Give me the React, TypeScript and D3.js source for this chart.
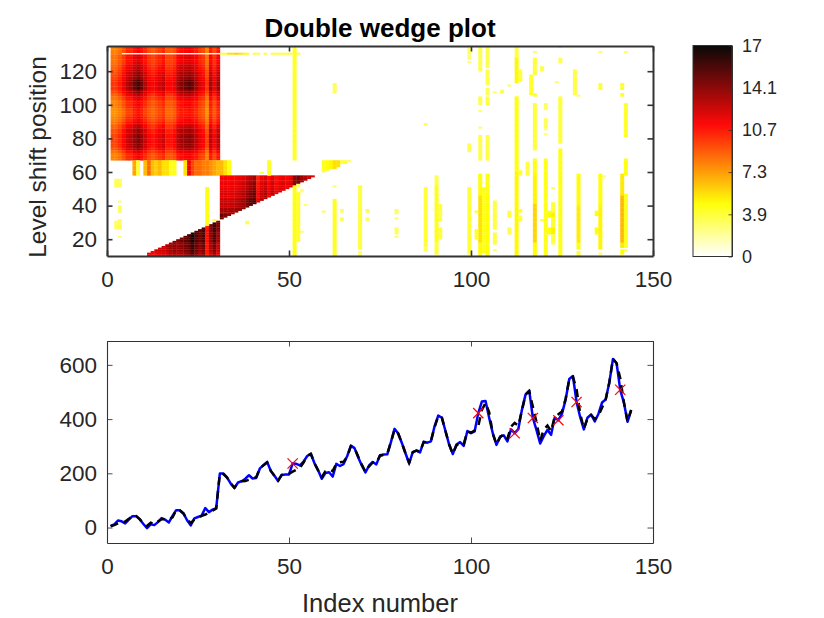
import { useEffect, useRef } from 'react';
import * as d3 from 'd3';

// Observed series, one value per index number
const observed = [
  6, 12, 26, 23, 15, 29, 42, 42, 30, 13, -2, 12,
  9, 20, 35, 29, 19, 43, 64, 64, 52, 27, 8, 34,
  39, 44, 72, 57, 66, 72, 199, 199, 184, 162, 146, 166,
  171, 180, 193, 181, 183, 218, 230, 242, 209, 191, 172, 194,
  196, 196, 236, 235, 229, 243, 264, 272, 237, 211, 180, 201,
  204, 188, 235, 227, 234, 264, 302, 293, 259, 229, 203, 229,
  242, 233, 267, 269, 270, 315, 364, 347, 312, 274, 237, 278,
  284, 277, 317, 313, 318, 374, 413, 405, 355, 306, 271, 306,
  315, 301, 356, 348, 355, 422, 465, 467, 404, 347, 305, 336,
  340, 318, 362, 348, 363, 435, 491, 505, 404, 359, 310, 337,
  360, 342, 406, 396, 420, 472, 548, 559, 463, 407, 362, 405,
  417, 391, 419, 461, 472, 535, 622, 606, 508, 461, 390, 432,
];

// Dashed fitted series
const fitted = [
  5, 9, 15, 21, 22, 32, 43, 43, 31, 16, 6, 18,
  12, 22, 31, 31, 30, 38, 64, 63, 52, 30, 17, 29,
  36, 43, 48, 54, 62, 70, 199, 197, 184, 163, 147, 166,
  171, 172, 176, 181, 186, 218, 230, 240, 209, 191, 173, 194,
  196, 198, 206, 213, 220, 240, 264, 272, 237, 211, 186, 208,
  214, 208, 236, 241, 243, 262, 300, 293, 262, 232, 206, 226,
  240, 238, 265, 268, 272, 315, 362, 347, 312, 274, 239, 278,
  284, 280, 315, 315, 320, 370, 411, 405, 355, 306, 272, 303,
  313, 308, 354, 350, 358, 374, 434, 460, 425, 345, 307, 333,
  345, 328, 372, 386, 375, 433, 490, 503, 445, 388, 320, 362,
  376, 355, 409, 418, 428, 475, 548, 556, 510, 420, 364, 402,
  415, 400, 412, 442, 472, 535, 622, 606, 551, 462, 392, 434,
];

const outlierIndex = [51, 102, 112, 117, 124, 129, 141];

const xTicks = [0, 50, 100, 150];
const wedgeYTicks = [20, 40, 60, 80, 100, 120];
const seriesYTicks = [0, 200, 400, 600];
const colorTickLabels = ['0', '3.9', '7.3', '10.7', '14.1', '17'];

// Column profiles of the upper-left block (columns 1..30), light to dark
const blockProfiles = [
  [7, 7, 7.4, 8, 9, 9, 9.8, 10.2, 9.8, 9, 8.4, 8, 8.4, 8.8, 9.2, 8, 8, 8.4, 9.6, 10, 10, 10.2, 10, 9.6, 8.8, 8.4, 7, 9.6, 8.4, 9.6],
  [7.4, 7.4, 7.8, 8.6, 9.6, 9.6, 10.3, 10.8, 10.3, 9.6, 8.8, 8.4, 8.8, 9.2, 9.6, 8.4, 8.4, 8.8, 10, 10.4, 10.5, 10.8, 10.4, 10, 9.2, 8.8, 7.4, 10, 8.8, 10],
  [7.8, 7.8, 8.4, 9.2, 10.2, 10.2, 11, 11.6, 11, 10.2, 9.4, 9, 9.4, 9.8, 10.2, 9, 9, 9.4, 10.6, 11, 11.2, 11.4, 11, 10.6, 9.8, 9.4, 7.8, 10.6, 9.4, 10.6],
  [8.2, 8.2, 8.8, 9.8, 10.8, 11, 11.8, 12.4, 11.8, 10.8, 9.8, 9.4, 9.8, 10.3, 10.8, 9.4, 9.4, 9.8, 11.2, 11.8, 12, 12.2, 11.8, 11.2, 10.3, 9.8, 8.2, 11.2, 9.8, 11.2],
  [8.6, 8.6, 9.2, 10.2, 11.4, 11.6, 12.4, 13.2, 12.4, 11.4, 10.2, 9.8, 10.2, 10.8, 11.2, 9.8, 9.8, 10.2, 11.8, 12.4, 12.6, 12.9, 12.4, 11.8, 10.8, 10.2, 8.6, 11.8, 10.2, 11.8],
  [9, 9, 9.6, 10.6, 11.8, 12.2, 13, 13.8, 13, 11.8, 10.6, 10.2, 10.6, 11.2, 11.8, 10.2, 10.2, 10.6, 12.2, 12.9, 13.2, 13.5, 13, 12.2, 11.2, 10.6, 9, 12.2, 10.6, 12.2],
  [9.4, 9.4, 10, 11, 12.4, 13, 14.2, 15.2, 14.2, 12.4, 11, 10.6, 11, 11.6, 12.2, 10.6, 10.6, 11, 12.8, 13.6, 14.2, 14.8, 14.2, 12.8, 11.6, 11, 9.4, 12.8, 11, 12.8],
];

// [top row, bottom row, profile]
const blockBands = [
  [134, 130, 1], [129, 124, 2], [123, 121, 3], [120, 118, 4], [117, 115, 5], [114, 109, 6],
  [108, 107, 5], [106, 105, 3], [104, 103, 2], [102, 98, 1], [97, 93, 0], [92, 90, 1],
  [89, 88, 2], [87, 86, 3], [85, 83, 4], [82, 80, 5], [79, 75, 5], [74, 73, 4], [72, 71, 2], [70, 67, 1],
];

// Strip of rows 58..66, columns 7..33 (0 = empty)
const stripValues = [
  6.5, 3.4, 0, 6, 8, 6, 5.5, 6, 5, 5, 3.9, 3.9, 0, 0, 5, 11, 9, 8, 8, 7.5, 7.5, 7, 6.5, 6, 6, 5, 4,
];

// Lower wedge, columns 11..30
const lowWedgeRows = [
  [30, 25, [11.5, 11.5, 12, 12.2, 12.2, 13, 13.6, 14.2, 13.8, 14.5, 14.8, 15.2, 16, 15.2, 14.6, 15.4, 10.4, 13.8, 15.4, 13.8]],
  [24, 18, [11.5, 11.5, 11.8, 12, 12, 12.8, 13.4, 14, 13.6, 14.2, 14.6, 15, 16.4, 15, 14.2, 15, 10.2, 13.4, 15, 13]],
  [17, 13, [11.2, 11.2, 11.5, 11.8, 11.8, 12.4, 13, 13.4, 13, 13.4, 14, 14.4, 15.6, 14.4, 13.4, 14.2, 10, 12.6, 14, 12]],
  [12, 10, [10.8, 10.8, 11, 11.2, 11.4, 11.8, 12.4, 12.8, 12.4, 12.6, 13.2, 13.6, 14.8, 13.6, 12.6, 13.4, 10, 11.6, 13, 11]],
];

// Upper wedge, columns 31..57
const highWedgeRows = [
  [57, 54, [10.8, 10.8, 10.6, 10.8, 10.8, 11, 11.4, 12, 12.4, 13, 9.8, 11, 11.4, 10.4, 11.4, 10.4, 10.8, 11, 10.6, 11, 13.4, 14, 13, 12.4, 11.8, 11.4, 11]],
  [53, 49, [11, 11, 10.8, 11, 11, 11.4, 11.8, 12.4, 13, 13.6, 10.2, 11.4, 12, 10.8, 11.8, 10.6, 11.2, 11.4, 11, 11.4, 13.6, 14.2, 13.2, 12.6, 12, 11.5, 11]],
  [48, 44, [11.4, 11.4, 11.2, 11.4, 11.6, 12, 12.4, 13.2, 13.8, 14.4, 10.6, 12, 12.6, 11.2, 12.2, 11, 11.6, 11.8, 11.4, 11.6, 13.8, 14.2, 13.4, 12.8, 12, 11.6, 11]],
  [43, 39, [12, 12, 11.8, 12, 12.2, 12.6, 13, 14, 14.6, 15.2, 11.2, 12.6, 13.2, 11.8, 12.8, 11.4, 12, 12.2, 11.6, 11.8, 13.8, 14, 13, 13, 12, 11.6, 11]],
  [38, 35, [12.8, 12.8, 12.6, 12.8, 13, 13.2, 13.8, 14.8, 15.4, 15.8, 11.6, 13, 13.6, 12.2, 13.2, 11.8, 12.4, 12.8, 11.8, 12, 14, 14, 13, 13, 12, 11.6, 11]],
  [34, 32, [14.4, 13.8, 13.4, 13.4, 13.6, 13.8, 14.4, 15.2, 15.8, 16, 12, 13.4, 14, 12.4, 13.6, 12, 12.6, 13, 12, 12, 14, 14, 13, 13, 12, 11.6, 11]],
];

// Sparse segments: [column, top row, bottom row, value]
const sparseCells = [
  // row with the thin line through the top block
  [31, 130, 130, 3], [32, 130, 130, 3.4], [33, 130, 130, 5], [34, 130, 130, 5], [35, 130, 130, 5.5], [36, 130, 130, 5], [37, 130, 130, 4.5], [38, 130, 130, 4],
  [40, 130, 130, 3.4], [41, 130, 130, 3], [43, 130, 130, 3.5], [45, 130, 130, 3.4], [46, 130, 130, 3.4], [47, 130, 130, 3.4], [48, 130, 130, 3.4], [49, 130, 130, 3.4], [50, 130, 130, 3.4], [52, 130, 130, 3.4],
  // small marks left of the lower wedge
  [2, 55, 51, 2.8], [3, 55, 51, 2.8], [3, 42, 42, 2.4], [3, 39, 36, 2.8], [3, 31, 31, 2.6], [2, 30, 26, 2.8], [3, 30, 26, 2.8], [3, 21, 21, 2.4],
  [27, 50, 28, 4.1], [29, 31, 31, 3.4], [38, 30, 29, 3], [42, 59, 59, 3], [44, 66, 58, 3.6], [59, 36, 36, 3],
  // column at 51
  [51, 134, 67, 3.7], [51, 51, 10, 4], [52, 52, 51, 2.6], [52, 47, 19, 3.6], [53, 49, 48, 2.4], [54, 40, 40, 2.4], [53, 24, 24, 2.6],
  // triangle next to the strip
  [59, 66, 60, 3.8], [60, 66, 61, 4.2], [61, 66, 62, 4.4], [62, 66, 62, 5], [63, 66, 63, 5], [64, 66, 65, 3.4], [65, 66, 65, 3.4], [66, 66, 66, 3],
  [62, 112, 107, 2.8], [62, 51, 51, 2.6], [62, 43, 10, 3.8],
  [64, 37, 36, 2.6], [64, 32, 31, 2.8],
  [69, 51, 14, 3.4], [69, 12, 10, 2.6], [71, 37, 36, 3], [71, 32, 31, 2.6],
  [79, 37, 35, 2.8], [79, 32, 32, 2.4], [79, 26, 23, 2.8], [79, 21, 21, 2.6],
  [87, 88, 88, 3], [87, 50, 16, 3.4], [87, 15, 13, 2.8],
  [90, 57, 52, 3], [90, 51, 19, 3.9], [90, 18, 11, 3.4], [91, 40, 31, 3.2], [91, 26, 20, 3.4],
  [99, 133, 131, 2.6], [99, 130, 127, 2.4], [99, 125, 125, 2.4], [99, 76, 72, 3], [99, 50, 11, 3.4],
  [102, 134, 120, 3], [102, 104, 100, 3], [102, 96, 96, 2.4], [102, 86, 86, 2.4], [102, 81, 67, 3],
  [102, 58, 46, 4.2], [102, 45, 18, 5], [102, 17, 10, 4.3], [101, 36, 36, 4], [101, 25, 20, 3.6],
  [103, 50, 12, 3.8], [104, 134, 122, 3], [104, 120, 112, 3], [104, 109, 106, 2.8], [104, 104, 100, 3.2], [104, 81, 67, 3.2], [104, 58, 46, 4], [104, 45, 10, 4.2],
  [106, 107, 107, 2.6], [106, 42, 26, 3.2], [106, 23, 17, 3.2], [106, 13, 13, 2.6], [108, 108, 107, 3],
  [110, 111, 111, 2.8], [110, 36, 33, 3.2], [110, 26, 23, 3],
  [112, 134, 128, 3.2], [112, 127, 113, 4.4], [112, 104, 60, 4.1], [112, 59, 10, 4.4], [113, 120, 114, 3.4], [113, 60, 58, 3.4], [113, 37, 36, 3.4], [113, 33, 31, 3.4],
  [115, 65, 58, 3.2], [116, 117, 106, 3.6], [117, 131, 131, 2.6], [117, 127, 118, 3.3], [117, 106, 105, 3.4], [117, 100, 73, 3.3],
  [117, 67, 59, 4], [117, 58, 41, 4.5], [117, 40, 18, 5.3], [117, 17, 10, 4.3],
  [119, 122, 120, 3], [119, 31, 31, 3], [120, 100, 97, 2.8], [120, 91, 86, 2.8], [120, 85, 85, 2.4], [120, 82, 82, 2.4], [120, 67, 10, 3.9],
  [121, 36, 33, 4.2], [121, 26, 23, 4.2], [122, 50, 50, 2.6], [122, 41, 36, 3.4], [122, 35, 33, 4.6], [122, 32, 27, 3.6], [122, 26, 23, 4.6], [122, 22, 17, 3.2],
  [123, 113, 113, 2.6], [124, 134, 134, 2.8], [124, 127, 125, 3], [124, 104, 89, 3.4], [124, 88, 77, 3.4], [124, 73, 10, 4],
  [128, 120, 112, 3.2], [128, 111, 106, 3.2], [129, 105, 105, 2.6], [129, 58, 40, 4.3], [129, 39, 18, 4.7], [129, 17, 14, 4], [129, 12, 10, 3.4],
  [134, 36, 34, 4.2], [134, 26, 23, 4.2], [135, 131, 131, 2.6], [135, 112, 109, 3.4], [135, 58, 40, 4.2], [135, 39, 14, 4.5], [135, 11, 11, 3], [136, 57, 57, 2.6],
  [141, 112, 109, 3.6], [141, 106, 105, 3.6], [141, 58, 46, 4.8], [141, 45, 18, 6], [141, 17, 15, 4.8], [141, 13, 11, 4.2],
  [142, 131, 131, 2.6], [142, 100, 81, 3.6], [142, 67, 58, 4], [142, 46, 15, 3.8], [142, 13, 13, 3],
];

const heatColor = d3
  .scaleLinear<string>()
  .domain([0, 4.25, 10.6, 17])
  .range(['#ffffff', '#ffff00', '#ff0000', '#000000'])
  .clamp(true);

function buildCells() {
  const cells: { c: number; r: number; v: number }[] = [];
  blockBands.forEach(([top, bottom, p]) => {
    for (let r = bottom; r <= top; r++) {
      blockProfiles[p].forEach((v, i) => {
        if (r === 130 && i >= 3) return;
        cells.push({ c: i + 1, r, v });
      });
    }
  });
  for (let r = 58; r <= 66; r++) {
    stripValues.forEach((v, i) => {
      if (v > 0) cells.push({ c: i + 7, r, v });
    });
  }
  lowWedgeRows.forEach(([top, bottom, vals]) => {
    for (let r = bottom as number; r <= (top as number); r++) {
      (vals as number[]).forEach((v, i) => {
        const c = i + 11;
        if (r <= c) cells.push({ c, r, v });
      });
    }
  });
  highWedgeRows.forEach(([top, bottom, vals]) => {
    for (let r = bottom as number; r <= (top as number); r++) {
      (vals as number[]).forEach((v, i) => {
        const c = i + 31;
        if (r >= c + 1) cells.push({ c, r, v });
      });
    }
  });
  sparseCells.forEach(([c, top, bottom, v]) => {
    for (let r = bottom; r <= top; r++) cells.push({ c, r, v });
  });
  return cells;
}

const FONT = '"Liberation Sans", Arial, sans-serif';
const AXIS_COLOR = '#333333';

export default function App() {
  const ref = useRef<SVGSVGElement>(null);

  useEffect(() => {
    if (!ref.current) return;
    const svg = d3.select(ref.current);
    svg.selectAll('*').remove();

    const left = 107;
    const right = 653;
    const x1 = d3.scaleLinear().domain([0, 150]).range([left, right]);
    const y1 = d3.scaleLinear().domain([10, 135]).range([256, 46]);
    const y2 = d3.scaleLinear().domain([-57, 688]).range([543, 341]);

    const defs = svg.append('defs');
    defs.append('clipPath').attr('id', 'wedge-clip').append('rect')
      .attr('x', left).attr('y', 46).attr('width', right - left).attr('height', 210);
    const blur = defs.append('filter').attr('id', 'soft').attr('x', '-2%').attr('y', '-2%').attr('width', '104%').attr('height', '104%');
    blur.append('feGaussianBlur').attr('stdDeviation', 0.45);

    // Wedge heat map
    svg.append('g')
      .attr('clip-path', 'url(#wedge-clip)')
      .append('g')
      .attr('filter', 'url(#soft)')
      .selectAll('rect')
      .data(buildCells())
      .join('rect')
      .attr('x', d => x1(d.c))
      .attr('y', d => y1(d.r + 1))
      .attr('width', d => x1(d.c + 1) - x1(d.c) + 0.3)
      .attr('height', d => y1(d.r) - y1(d.r + 1) + 0.3)
      .attr('fill', d => heatColor(d.v));

    // Lower panel lines
    const line = d3.line<number>().x((_, i) => x1(i + 1)).y(d => y2(d));
    svg.append('path').attr('d', line(observed)).attr('fill', 'none')
      .attr('stroke', '#0000ff').attr('stroke-width', 2.5).attr('stroke-linejoin', 'round');
    svg.append('path').attr('d', line(fitted)).attr('fill', 'none')
      .attr('stroke', '#000000').attr('stroke-width', 2.5).attr('stroke-dasharray', '8 6');

    svg.append('g').selectAll('path')
      .data(outlierIndex)
      .join('path')
      .attr('d', d3.symbol(d3.symbolX, 70))
      .attr('transform', d => `translate(${x1(d)},${y2(observed[d - 1])})`)
      .attr('fill', 'none')
      .attr('stroke', '#ff0000')
      .attr('stroke-width', 1.2);

    // Colour bar
    const barX = d3.scaleLinear().domain([0, 1]).range([693, 732]);
    const barY = d3.scaleLinear().domain([0, 17]).range([256.5, 45.5]);
    const levels = d3.range(0, 17, 17 / 211);
    svg.append('g').selectAll('rect')
      .data(levels)
      .join('rect')
      .attr('x', barX(0))
      .attr('width', barX(1) - barX(0))
      .attr('y', d => barY(d) - 1.3)
      .attr('height', 1.6)
      .attr('fill', d => heatColor(d));

    const styleAxis = (g: d3.Selection<SVGGElement, unknown, null, undefined>, size: number, weight: number) => {
      g.selectAll('.domain').attr('stroke', AXIS_COLOR).attr('stroke-width', weight);
      g.selectAll('.tick line').attr('stroke', AXIS_COLOR).attr('stroke-width', weight * 0.8);
      g.selectAll('text').attr('fill', '#262626').style('font-family', FONT).style('font-size', `${size}px`);
    };

    const drawBox = (
      xs: d3.ScaleLinear<number, number>,
      ys: d3.ScaleLinear<number, number>,
      xVals: number[],
      yVals: number[],
      xBottom: number,
      yTop: number,
      weight: number,
    ) => {
      const bottom = svg.append('g').attr('transform', `translate(0,${xBottom})`)
        .call(d3.axisBottom(xs).tickValues(xVals).tickSize(-5.5).tickSizeOuter(0).tickPadding(15).tickFormat(d3.format('d')));
      styleAxis(bottom, 22.5, weight);
      const top = svg.append('g').attr('transform', `translate(0,${yTop})`)
        .call(d3.axisTop(xs).tickValues(xVals).tickSize(-5.5).tickSizeOuter(0).tickFormat(() => ''));
      styleAxis(top, 22.5, weight);
      const l = svg.append('g').attr('transform', `translate(${left},0)`)
        .call(d3.axisLeft(ys).tickValues(yVals).tickSize(-5.5).tickSizeOuter(0).tickPadding(10).tickFormat(d3.format('d')));
      styleAxis(l, 22.5, weight);
      const r = svg.append('g').attr('transform', `translate(${right},0)`)
        .call(d3.axisRight(ys).tickValues(yVals).tickSize(-5.5).tickSizeOuter(0).tickFormat(() => ''));
      styleAxis(r, 22.5, weight);
    };
    drawBox(x1, y1, xTicks, wedgeYTicks, 256, 46, 2);
    drawBox(x1, y2, xTicks, seriesYTicks, 543, 341, 1.1);

    // Colour bar frame and labels: the ticks are evenly spaced along the bar
    const barTicks = d3.scalePoint<string>().domain(colorTickLabels).range([256.5, 45.5]);
    const barAxis = svg.append('g').attr('transform', 'translate(732,0)')
      .call(d3.axisRight(barTicks).tickSize(-3.5).tickSizeOuter(0).tickPadding(10));
    styleAxis(barAxis, 18, 1);
    svg.append('rect')
      .attr('x', barX(0)).attr('y', barY(17)).attr('width', barX(1) - barX(0)).attr('height', barY(0) - barY(17))
      .attr('fill', 'none').attr('stroke', AXIS_COLOR).attr('stroke-width', 1);

    svg.append('text').attr('x', 380).attr('y', 37).attr('text-anchor', 'middle')
      .style('font-family', FONT).style('font-size', '26px').style('font-weight', 'bold').attr('fill', '#000')
      .text('Double wedge plot');
    svg.append('text').attr('x', 380).attr('y', 612).attr('text-anchor', 'middle')
      .style('font-family', FONT).style('font-size', '25.5px').attr('fill', '#262626')
      .text('Index number');
    svg.append('text').attr('transform', 'translate(46,157) rotate(-90)').attr('text-anchor', 'middle')
      .style('font-family', FONT).style('font-size', '24.5px').attr('fill', '#262626')
      .text('Level shift position');
  }, []);

  return <svg ref={ref} width={824} height={618} style={{ position: 'absolute', left: 0, top: 0, background: '#fff' }} />;
}
